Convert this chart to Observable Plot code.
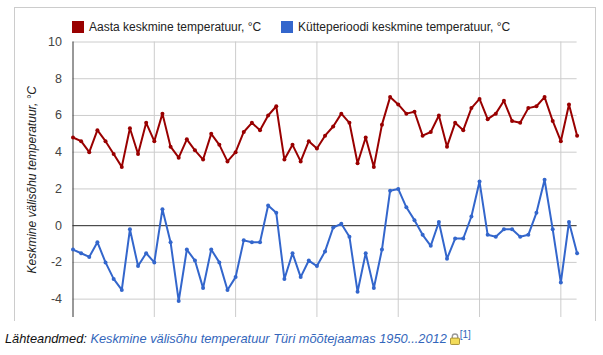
<!DOCTYPE html>
<html><head><meta charset="utf-8">
<script src="https://cdn.jsdelivr.net/npm/d3@7"></script>
<script src="https://cdn.jsdelivr.net/npm/@observablehq/plot@0.6"></script>
<style>
html,body{margin:0;padding:0;background:#fff;font-family:"Liberation Sans",Arial,sans-serif;}
#wrap{position:relative;width:603px;height:355px;overflow:hidden;}
#frame{position:absolute;left:14px;top:7px;width:580px;height:313px;border:1px solid #ccc;border-bottom:none;box-sizing:content-box;z-index:2;pointer-events:none;}
#chart{position:absolute;left:0;top:0;}
.lg{position:absolute;top:19px;font-size:12px;line-height:16px;color:#222;white-space:nowrap;z-index:3;}
.sw{position:absolute;top:21px;width:12px;height:12px;z-index:3;}
#cap{position:absolute;left:5px;top:331px;font-size:12.8px;line-height:16px;font-style:italic;color:#111;white-space:nowrap;z-index:3;}
#cap a{color:#3366bb;text-decoration:none;}
#cap sup{font-size:10px;font-style:normal;color:#3366bb;line-height:0;}
#cap svg{vertical-align:-2px;margin-left:3px;}
</style></head>
<body><div id="wrap">
<div id="frame"></div>
<div id="chart"></div>
<div class="sw" style="left:72px;background:#990000"></div>
<div class="lg" style="left:89px" id="l1"></div>
<div class="sw" style="left:281px;background:#3366cc"></div>
<div class="lg" style="left:298px" id="l2"></div>
<div id="cap">Lähteandmed: <a>Keskmine välisõhu temperatuur Türi mõõtejaamas 1950...2012</a><svg width="10" height="12" viewBox="0 0 11 13"><path d="M2.5 6V4a3 3 0 0 1 6 0v2" fill="none" stroke="#999" stroke-width="1.5"/><rect x="0.5" y="5.5" width="10" height="7" rx="1" fill="#f3dc5a" stroke="#a08a30"/></svg><sup>[1]</sup></div>
</div>
<script>
const startYear = 1950;
const annualLabel = "Aasta keskmine temperatuur, °C";
const heatingLabel = "Kütteperioodi keskmine temperatuur, °C";
const yLabel = "Keskmine välisõhu temperatuur, °C";
const yTicks = [-4,-2,0,2,4,6,8,10];
const xGrid = [1960,1970,1980,1990,2000,2010];
const annual = [4.8,4.6,4.0,5.2,4.6,3.9,3.2,5.3,3.9,5.6,
 4.6,6.1,4.3,3.7,4.7,4.1,3.6,5.0,4.4,3.5,
 4.0,5.1,5.6,5.2,6.0,6.5,3.6,4.4,3.5,4.6,
 4.2,4.9,5.4,6.1,5.6,3.4,4.8,3.2,5.5,7.0,
 6.6,6.1,6.2,4.9,5.1,6.0,4.3,5.6,5.2,6.4,
 6.9,5.8,6.1,6.8,5.7,5.6,6.4,6.5,7.0,5.7,
 4.6,6.6,4.9];
const heating = [-1.3,-1.5,-1.7,-0.9,-2.0,-2.9,-3.5,-0.2,-2.2,-1.5,
 -2.0,0.9,-0.9,-4.1,-1.3,-1.9,-3.4,-1.3,-2.0,-3.5,
 -2.8,-0.8,-0.9,-0.9,1.1,0.7,-2.9,-1.5,-2.8,-1.9,
 -2.2,-1.4,-0.1,0.1,-0.6,-3.6,-1.5,-3.4,-1.3,1.9,
 2.0,1.0,0.3,-0.5,-1.1,0.2,-1.8,-0.7,-0.7,0.5,
 2.4,-0.5,-0.6,-0.2,-0.2,-0.6,-0.5,0.7,2.5,-0.2,
 -3.1,0.2,-1.5];
const annualRows = annual.map((v,i)=>({year:startYear+i,v}));
const heatingRows = heating.map((v,i)=>({year:startYear+i,v}));
const RED="#990000", BLUE="#3366cc";
document.getElementById("l1").textContent = annualLabel;
document.getElementById("l2").textContent = heatingLabel;
const plot = Plot.plot({
  width:603, height:320,
  marginTop:41.5, marginBottom:3, marginLeft:72.5, marginRight:26.4,
  style:{background:"transparent",fontFamily:'"Liberation Sans",Arial,sans-serif',fontSize:"12px",overflow:"visible"},
  x:{domain:[1950,2012],axis:null},
  y:{domain:[-5,10]},
  marks:[
    Plot.ruleY(yTicks,{stroke:"#ccc",strokeOpacity:1,strokeWidth:1}),
    Plot.ruleX(xGrid,{stroke:"#ccc",strokeWidth:1}),
    Plot.axisY({ticks:yTicks,tickSize:0,tickPadding:11,tickFormat:d=>d<0?"-"+Math.abs(d):d,label:null,fill:"#444",fontSize:12.5}),
    Plot.ruleY([0],{stroke:"#333",strokeWidth:1}),
    Plot.ruleX([1950],{stroke:"#333",strokeWidth:1}),
    Plot.line(annualRows,{x:"year",y:"v",stroke:RED,strokeWidth:2,curve:"linear"}),
    Plot.dot(annualRows,{x:"year",y:"v",fill:RED,r:2}),
    Plot.line(heatingRows,{x:"year",y:"v",stroke:BLUE,strokeWidth:2,curve:"linear"}),
    Plot.dot(heatingRows,{x:"year",y:"v",fill:BLUE,r:2}),
    Plot.text([yLabel],{x:1950,y:2.5,dx:-41,rotate:-90,fontStyle:"italic",fill:"#222",fontSize:12,textAnchor:"middle"})
  ]
});
document.getElementById("chart").append(plot);
</script>
</body></html>
